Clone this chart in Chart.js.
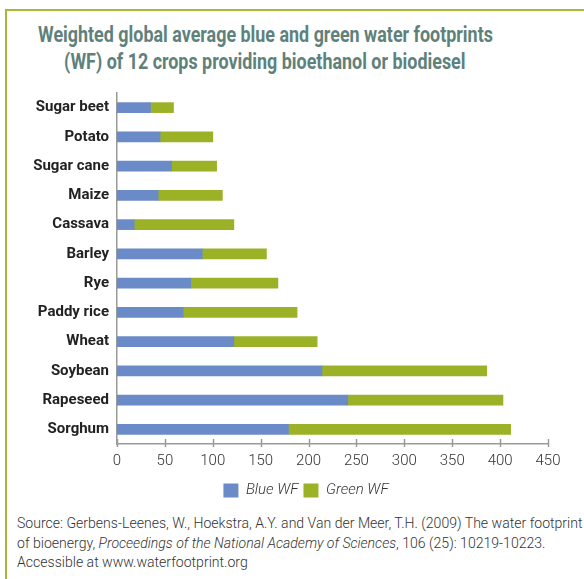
<!DOCTYPE html>
<html>
<head>
<meta charset="utf-8">
<script src="https://cdn.jsdelivr.net/npm/chart.js@4"></script>
<style>
  html, body { margin: 0; padding: 0; background: #fff; }
  body { width: 584px; height: 579px; overflow: hidden; position: relative; }
  .frame { position: absolute; left: 5px; top: 9px; width: 600px; height: 600px;
           border-left: 2px solid #a3ba36; border-top: 2px solid #a3ba36; }
  .title { position: absolute; left: -100px; top: 21px; width: 730px; text-align: center;
           font-family: Roboto, sans-serif; font-weight: bold; font-size: 22px;
           line-height: 27px; color: #5f817c; }
  .title span { display: inline-block; white-space: nowrap; transform-origin: center; }
  .chartbox { position: absolute; left: 0; top: 0; width: 612px; height: 514px; }
  .source { position: absolute; left: 17px; top: 514px;
            font-family: Roboto, sans-serif; font-weight: 300;
            font-size: 15px; line-height: 19.5px; color: #333; }
  .source span { display: block; white-space: nowrap; transform-origin: left center; }
</style>
</head>
<body>
<div class="frame"></div>
<div class="title"><span>Weighted global average blue and green water footprints</span><br><span>(WF) of 12 crops providing bioethanol or biodiesel</span></div>
<div class="chartbox"><canvas id="wfChart"></canvas></div>
<div class="source"><span>Source: Gerbens-Leenes, W., Hoekstra, A.Y. and Van der Meer, T.H. (2009) The water footprint</span><span>of bioenergy, <i>Proceedings of the National Academy of Sciences</i>, 106 (25): 10219-10223.</span><span>Accessible at www.waterfootprint.org</span></div>

<script>
// crops, top to bottom
const crops = ["Sugar beet", "Potato", "Sugar cane", "Maize", "Cassava", "Barley",
               "Rye", "Paddy rice", "Wheat", "Soybean", "Rapeseed", "Sorghum"];
const blueWF = [35, 45, 57, 43, 18, 89, 77, 69, 122, 214, 241, 179];
const greenWF = [24, 55, 47, 67, 104, 67, 91, 119, 87, 172, 162, 232];
const xTicks = [0, 50, 100, 150, 200, 250, 300, 350, 400, 450];

const axisGrey = '#9a9a9a';

// squeeze the html text to the condensed widths of the original
function condense(selector, targetWidth) {
    const spans = document.querySelectorAll(selector);
    const k = targetWidth / spans[0].offsetWidth;
    spans.forEach(s => { s.style.transform = `scaleX(${k})`; });
}
condense('.title span', 455);
condense('.source span', 566);

// small tick marks crossing the x axis line
const crossTicks = {
    id: 'crossTicks',
    afterDraw(chart) {
        const ctx = chart.ctx;
        const x = chart.scales.x;
        const y0 = x.top;
        ctx.save();
        ctx.strokeStyle = axisGrey;
        ctx.lineWidth = 1.5;
        xTicks.forEach(v => {
            const px = Math.round(x.getPixelForValue(v)) + 0.5;
            ctx.beginPath();
            ctx.moveTo(px, y0 - 5);
            ctx.lineTo(px, y0 + 3);
            ctx.stroke();
        });
        ctx.restore();
    }
};

// the original legend sits a bit right of the canvas centre
const legendShift = {
    id: 'legendShift',
    afterLayout(chart) {
        chart.legend.left += 32;
        chart.legend.right += 32;
    }
};

const ctx = document.getElementById('wfChart').getContext('2d');

new Chart(ctx, {
    type: 'bar',
    data: {
        labels: crops,
        datasets: [{
            label: "Blue WF",
            data: blueWF,
            backgroundColor: "#6a8bc7",
            barThickness: 10
        }, {
            label: "Green WF",
            data: greenWF,
            backgroundColor: "#9bb227",
            barThickness: 10
        }]
    },
    options: {
        indexAxis: 'y',
        responsive: true,
        maintainAspectRatio: false,
        animation: false,
        layout: { padding: { top: 93, right: 64, bottom: 6, left: 0 } },
        plugins: {
            tooltip: { enabled: false },
            title: { display: false },
            legend: {
                position: 'bottom',
                labels: {
                    boxWidth: 15,
                    boxHeight: 14,
                    padding: 5,
                    color: '#333',
                    font: { family: 'Roboto', size: 15, style: 'italic', weight: 300 }
                }
            }
        },
        scales: {
            x: {
                stacked: true,
                min: 0,
                max: 450,
                grid: { display: false, drawTicks: false },
                border: { display: true, color: axisGrey, width: 1.5 },
                afterBuildTicks: axis => { axis.ticks = xTicks.map(v => ({ value: v })); },
                ticks: {
                    color: '#333',
                    padding: 8,
                    font: { family: 'Roboto', size: 15, weight: 300 }
                }
            },
            y: {
                stacked: true,
                grid: { display: false, drawTicks: false },
                border: { display: true, color: axisGrey, width: 1.5 },
                afterFit: axis => { axis.width = 117; },
                ticks: {
                    color: '#222',
                    padding: 8,
                    font: { family: 'Roboto', size: 15, weight: 'bold' }
                }
            }
        }
    },
    plugins: [crossTicks, legendShift]
});
</script>
</body>
</html>
